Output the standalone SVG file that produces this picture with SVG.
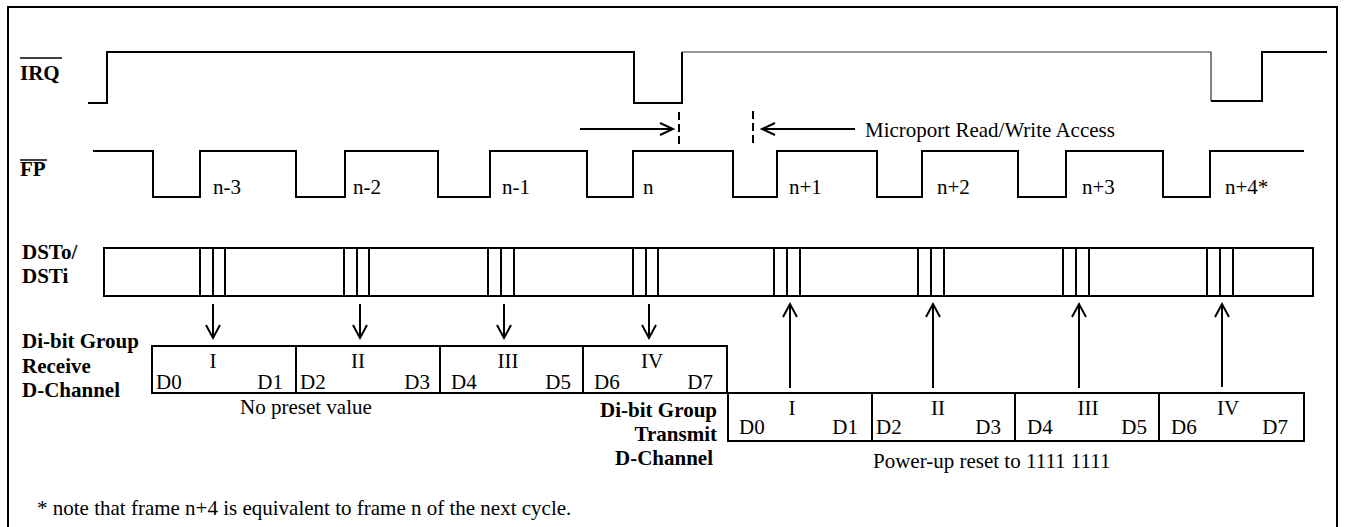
<svg xmlns="http://www.w3.org/2000/svg" width="1346" height="527" viewBox="0 0 1346 527">
<style>
  .ln{fill:none;stroke:#000;stroke-width:2}
  .thin{fill:none;stroke:#333;stroke-width:1.2}
  .t{font-family:"Liberation Serif","Times New Roman",serif;font-size:21px;fill:#000}
  .b{font-family:"Liberation Serif","Times New Roman",serif;font-size:21px;font-weight:bold;fill:#000}
  .m{text-anchor:middle}
  .e{text-anchor:end}
  .dash{fill:none;stroke:#000;stroke-width:2;stroke-dasharray:8,4}
</style>
<rect width="1346" height="527" fill="#fff"/>
<path class="ln" d="M8,530 V7 H1337 V530"/>

<g id="irq">
  <text class="b" x="20" y="80">IRQ</text>
  <line x1="20" y1="58" x2="62" y2="58" stroke="#000" stroke-width="1.5"/>
  <path class="ln" d="M88,103 H107 V52 H634 V103 H682 V52"/>
  <path class="thin" d="M682,52 H1211 V101"/>
  <path class="ln" d="M1211,101 H1262 V52 H1327"/>
</g>

<g id="fp">
  <text class="b" x="20" y="176">FP</text>
  <line x1="20" y1="160" x2="47" y2="160" stroke="#000" stroke-width="1.5"/>
  <path class="ln" d="M93,151 H153 V197 H200 V151 H296 V197 H345 V151 H438 V197 H490 V151 H587 V197 H633 V151 H733 V197 H777 V151 H877 V197 H922 V151 H1018 V197 H1066 V151 H1163 V197 H1210 V151 H1304"/>
  <text class="t" x="213" y="194">n-3</text>
  <text class="t" x="353" y="194">n-2</text>
  <text class="t" x="502" y="194">n-1</text>
  <text class="t" x="643" y="194">n</text>
  <text class="t" x="789" y="194">n+1</text>
  <text class="t" x="937" y="194">n+2</text>
  <text class="t" x="1082" y="194">n+3</text>
  <text class="t" x="1225" y="194">n+4*</text>
</g>

<g id="access">
  <line class="dash" x1="679" y1="112" x2="679" y2="148"/>
  <line class="dash" x1="753" y1="111" x2="753" y2="147"/>
  <text class="t" x="865" y="137">Microport Read/Write Access</text>
</g>

<g id="dst">
  <text class="b" x="22" y="259">DSTo/</text>
  <text class="b" x="22" y="283">DSTi</text>
  <rect class="ln" x="104" y="248" width="1209" height="48"/>
  <path class="ln" d="M200,248 V296 M213,248 V296 M225,248 V296
    M344,248 V296 M357,248 V296 M369,248 V296
    M488,248 V296 M501,248 V296 M514,248 V296
    M633,248 V296 M646,248 V296 M658,248 V296
    M774,248 V296 M787,248 V296 M800,248 V296
    M918,248 V296 M931,248 V296 M944,248 V296
    M1063,248 V296 M1076,248 V296 M1089,248 V296
    M1207,248 V296 M1220,248 V296 M1233,248 V296"/>
</g>

<g id="receive">
  <text class="b" x="22" y="348">Di-bit Group</text>
  <text class="b" x="22" y="373">Receive</text>
  <text class="b" x="22" y="397">D-Channel</text>
  <rect class="ln" x="152" y="346" width="575" height="47"/>
  <path class="ln" d="M296,346 V393 M440,346 V393 M583,346 V393"/>
  <text class="t m" x="213" y="368">I</text>
  <text class="t m" x="358" y="368">II</text>
  <text class="t m" x="508" y="368">III</text>
  <text class="t m" x="652" y="368">IV</text>
  <text class="t" x="156" y="389">D0</text>
  <text class="t e" x="283" y="389">D1</text>
  <text class="t" x="300" y="389">D2</text>
  <text class="t e" x="430" y="389">D3</text>
  <text class="t" x="451" y="389">D4</text>
  <text class="t e" x="571" y="389">D5</text>
  <text class="t" x="594" y="389">D6</text>
  <text class="t e" x="713" y="389">D7</text>
  <text class="t" x="240" y="414">No preset value</text>
</g>

<g id="transmit">
  <text class="b e" x="717" y="417">Di-bit Group</text>
  <text class="b e" x="717" y="441">Transmit</text>
  <text class="b e" x="713" y="465">D-Channel</text>
  <rect class="ln" x="728" y="393" width="576" height="48"/>
  <path class="ln" d="M872,393 V441 M1015,393 V441 M1159,393 V441"/>
  <text class="t m" x="792" y="415">I</text>
  <text class="t m" x="938" y="415">II</text>
  <text class="t m" x="1088" y="415">III</text>
  <text class="t m" x="1228" y="415">IV</text>
  <text class="t" x="739" y="434">D0</text>
  <text class="t e" x="858" y="434">D1</text>
  <text class="t" x="876" y="434">D2</text>
  <text class="t e" x="1001" y="434">D3</text>
  <text class="t" x="1027" y="434">D4</text>
  <text class="t e" x="1147" y="434">D5</text>
  <text class="t" x="1171" y="434">D6</text>
  <text class="t e" x="1288" y="434">D7</text>
  <text class="t" x="873" y="468">Power-up reset to 1111 1111</text>
</g>

<g id="connectors" class="ln">
  <path d="M580,129 H673 M660,123 L673,129 L660,135"/>
  <path d="M855,129 H762 M775,123 L762,129 L775,135"/>
  <path d="M213,304 V338 M206,325 L213,338 L220,325"/>
  <path d="M360,304 V338 M353,325 L360,338 L367,325"/>
  <path d="M504,304 V338 M497,325 L504,338 L511,325"/>
  <path d="M649,304 V338 M642,325 L649,338 L656,325"/>
  <path d="M790,388 V304 M783,317 L790,304 L797,317"/>
  <path d="M933,388 V304 M926,317 L933,304 L940,317"/>
  <path d="M1079,388 V304 M1072,317 L1079,304 L1086,317"/>
  <path d="M1222,387 V304 M1215,317 L1222,304 L1229,317"/>
</g>

<text class="t" x="37" y="515">* note that frame n+4 is equivalent to frame n of the next cycle.</text>
</svg>
